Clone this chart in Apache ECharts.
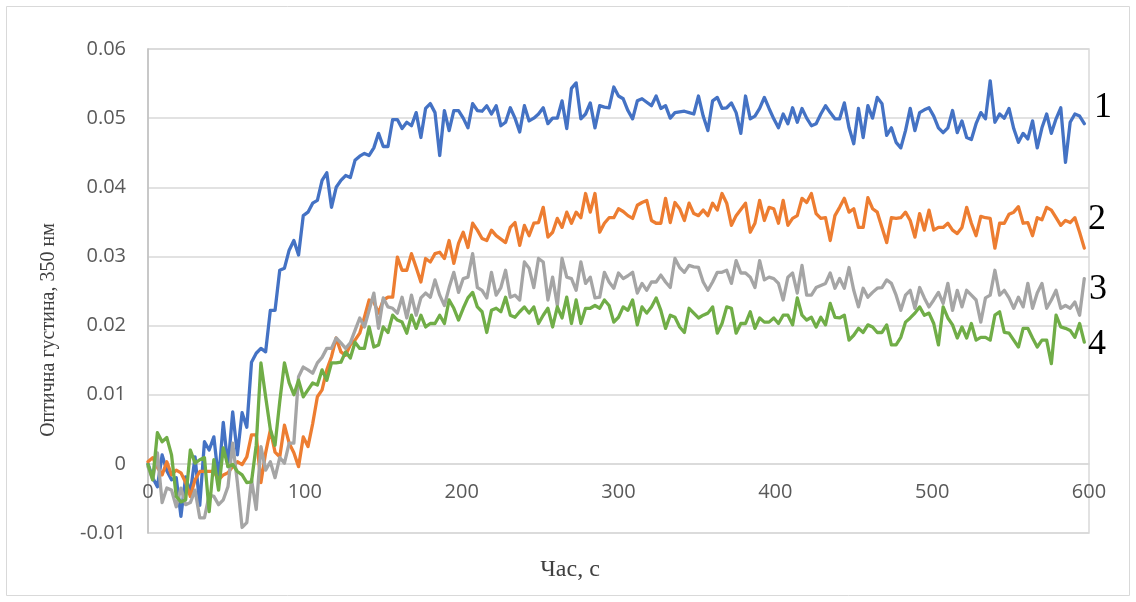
<!DOCTYPE html>
<html>
<head>
<meta charset="utf-8">
<script src="https://cdn.jsdelivr.net/npm/echarts@6/dist/echarts.min.js"></script>
<style>
  html, body { margin: 0; padding: 0; background: #fff; }
  #chart { width: 1136px; height: 602px; }
</style>
</head>
<body>
<div id="chart"></div>
<script>
// час вимірювання, с
var time = [
    0, 3, 6, 9, 12, 15, 18, 21, 24, 27,
    30, 33, 36, 39, 42, 45, 48, 51, 54, 57,
    60, 63, 66, 69, 72, 75, 78, 81, 84, 87,
    90, 93, 96, 99, 102, 105, 108, 111, 114, 117,
    120, 123, 126, 129, 132, 135, 138, 141, 144, 147,
    150, 153, 156, 159, 162, 165, 168, 171, 174, 177,
    180, 183, 186, 189, 192, 195, 198, 201, 204, 207,
    210, 213, 216, 219, 222, 225, 228, 231, 234, 237,
    240, 243, 246, 249, 252, 255, 258, 261, 264, 267,
    270, 273, 276, 279, 282, 285, 288, 291, 294, 297,
    300, 303, 306, 309, 312, 315, 318, 321, 324, 327,
    330, 333, 336, 339, 342, 345, 348, 351, 354, 357,
    360, 363, 366, 369, 372, 375, 378, 381, 384, 387,
    390, 393, 396, 399, 402, 405, 408, 411, 414, 417,
    420, 423, 426, 429, 432, 435, 438, 441, 444, 447,
    450, 453, 456, 459, 462, 465, 468, 471, 474, 477,
    480, 483, 486, 489, 492, 495, 498, 501, 504, 507,
    510, 513, 516, 519, 522, 525, 528, 531, 534, 537,
    540, 543, 546, 549, 552, 555, 558, 561, 564, 567,
    570, 573, 576, 579, 582, 585, 588, 591, 594, 597
];

// крива 1
var series1 = [
    0.000, -0.002, -0.0033, 0.0013, -0.001, -0.0023, -0.002, -0.0076, -0.0019, -0.0042,
    0.001, -0.006, 0.0032, 0.002, 0.0039, -0.0023, 0.006, -0.0004, 0.0075, 0.0013,
    0.0074, 0.0053, 0.0147, 0.016, 0.0167, 0.0162, 0.0222, 0.0222, 0.028, 0.0283,
    0.0309, 0.0323, 0.0302, 0.0359, 0.0364, 0.0377, 0.0381, 0.041, 0.0421, 0.0371,
    0.040, 0.041, 0.0417, 0.0414, 0.0439, 0.0445, 0.0449, 0.0446, 0.0457, 0.0478,
    0.0459, 0.0459, 0.0498, 0.0498, 0.0485, 0.0494, 0.0489, 0.0508, 0.0472, 0.0514,
    0.0521, 0.0508, 0.0446, 0.0511, 0.0482, 0.0511, 0.0511, 0.05, 0.0486, 0.0521,
    0.0511, 0.051, 0.0518, 0.0506, 0.0518, 0.0489, 0.0494, 0.0515, 0.05, 0.048,
    0.0518, 0.0496, 0.05, 0.0506, 0.0515, 0.0492, 0.05, 0.05, 0.0525, 0.0485,
    0.0543, 0.0551, 0.0499, 0.0506, 0.0522, 0.0486, 0.0518, 0.0516, 0.0515, 0.0545,
    0.0532, 0.0528, 0.0511, 0.0499, 0.0525, 0.0528, 0.0523, 0.0518, 0.0532, 0.0514,
    0.0518, 0.05, 0.0508, 0.0509, 0.051, 0.0508, 0.0506, 0.0532, 0.0503, 0.0482,
    0.0525, 0.053, 0.0514, 0.0515, 0.0522, 0.0508, 0.0478, 0.0532, 0.0499, 0.0503,
    0.0514, 0.053, 0.0514, 0.0499, 0.0486, 0.0506, 0.0492, 0.0515, 0.0494, 0.0514,
    0.05, 0.0489, 0.0492, 0.0506, 0.0518, 0.0508, 0.0499, 0.0499, 0.0522, 0.0486,
    0.0463, 0.0514, 0.0472, 0.0518, 0.05, 0.053, 0.0521, 0.0475, 0.0486, 0.0465,
    0.0457, 0.0482, 0.0514, 0.0482, 0.0508, 0.0512, 0.0515, 0.0503, 0.0486, 0.0479,
    0.0486, 0.0511, 0.0479, 0.0496, 0.0472, 0.0469, 0.0492, 0.0508, 0.0499, 0.0554,
    0.0494, 0.0506, 0.05, 0.0514, 0.0485, 0.0465, 0.0478, 0.047, 0.0496, 0.0457,
    0.0486, 0.0506, 0.0478, 0.0499, 0.0515, 0.0436, 0.0494, 0.0506, 0.0503, 0.0492
];

// крива 2
var series2 = [
    0.0003, 0.0009, -0.0005, -0.0016, 0.0003, -0.0016, -0.0009, -0.0013, -0.0027, -0.0047,
    -0.0023, -0.0011, -0.0011, -0.0011, -0.0011, -0.0023, -0.0016, -0.0013, -0.0004, 0.0003,
    -0.0001, 0.001, 0.0042, 0.0042, -0.0027, 0.0016, 0.0049, 0.0017, 0.001, 0.0056,
    0.003, 0.0016, -0.0004, 0.0039, 0.0025, 0.0058, 0.0097, 0.0107, 0.0136, 0.0155,
    0.0182, 0.0162, 0.0157, 0.0172, 0.0179, 0.0189, 0.0212, 0.0237, 0.0234, 0.0218,
    0.0237, 0.0241, 0.0241, 0.0299, 0.028, 0.028, 0.0304, 0.0284, 0.0263, 0.0297,
    0.0292, 0.0304, 0.0306, 0.0297, 0.0323, 0.029, 0.0319, 0.0335, 0.0313, 0.0348,
    0.0338, 0.0326, 0.0323, 0.0338, 0.033, 0.0325, 0.032, 0.0342, 0.0349, 0.0316,
    0.0345, 0.033, 0.0348, 0.0349, 0.0371, 0.0328, 0.0335, 0.0355, 0.0342, 0.0364,
    0.0348, 0.0364, 0.0356, 0.0391, 0.0364, 0.0391, 0.0335, 0.0348, 0.0356, 0.0356,
    0.0369, 0.0365, 0.0359, 0.0355, 0.0374, 0.0378, 0.0381, 0.0352, 0.0348, 0.0348,
    0.0384, 0.0349, 0.0378, 0.0369, 0.0352, 0.0377, 0.0362, 0.0359, 0.0367, 0.0359,
    0.0377, 0.0367, 0.0391, 0.0377, 0.0345, 0.0359, 0.0368, 0.0377, 0.0335, 0.0348,
    0.0381, 0.0352, 0.0371, 0.0369, 0.0348, 0.0381, 0.0345, 0.0355, 0.0359, 0.0384,
    0.0378, 0.0391, 0.0362, 0.0355, 0.0356, 0.0323, 0.0359, 0.0371, 0.0384, 0.0364,
    0.0369, 0.0342, 0.0342, 0.0385, 0.0369, 0.0364, 0.0342, 0.032, 0.0356, 0.0355,
    0.0356, 0.0364, 0.0352, 0.0328, 0.0362, 0.0338, 0.0367, 0.0338, 0.0342, 0.0342,
    0.0348, 0.0338, 0.0333, 0.0342, 0.0371, 0.0348, 0.033, 0.0358, 0.0356, 0.0355,
    0.0312, 0.0348, 0.0348, 0.0361, 0.0364, 0.0372, 0.0348, 0.0349, 0.033, 0.0356,
    0.0353, 0.0371, 0.0367, 0.0356, 0.0345, 0.0352, 0.0349, 0.0356, 0.0335, 0.0312
];

// крива 3
var series3 = [
    -0.0004, -0.0023, 0.0016, -0.0056, -0.0035, -0.0038, -0.0062, -0.0035, -0.0059, -0.0056,
    -0.0038, -0.0078, -0.0078, -0.0045, -0.0047, -0.0059, -0.0052, -0.0033, 0.003, -0.0027,
    -0.0092, -0.0085, -0.0023, -0.0066, 0.0025, -0.0009, 0.0003, -0.002, 0.0009, 0.0001,
    0.003, 0.003, 0.0126, 0.014, 0.0136, 0.0131, 0.0146, 0.0154, 0.0167, 0.0167,
    0.0182, 0.0175, 0.0167, 0.0175, 0.0193, 0.0211, 0.0198, 0.0222, 0.0247, 0.0196,
    0.024, 0.0227, 0.0225, 0.0218, 0.0241, 0.0211, 0.0244, 0.0215, 0.024, 0.0247,
    0.0241, 0.0266, 0.0244, 0.0229, 0.0255, 0.0277, 0.0248, 0.0268, 0.027, 0.0304,
    0.0255, 0.0251, 0.024, 0.0277, 0.0244, 0.0255, 0.028, 0.0241, 0.0244, 0.0237,
    0.0292, 0.0283, 0.0255, 0.0297, 0.0292, 0.0237, 0.027, 0.0229, 0.0297, 0.027,
    0.0268, 0.0251, 0.0292, 0.0261, 0.027, 0.024, 0.0241, 0.0277, 0.0263, 0.0254,
    0.0276, 0.0268, 0.0272, 0.0277, 0.0247, 0.0261, 0.0251, 0.0263, 0.0263, 0.0273,
    0.0263, 0.0255, 0.0297, 0.0284, 0.0277, 0.0287, 0.0285, 0.0284, 0.0263, 0.0251,
    0.0263, 0.0277, 0.0277, 0.028, 0.0261, 0.0294, 0.0276, 0.0276, 0.027, 0.0255,
    0.0294, 0.0266, 0.027, 0.0268, 0.0261, 0.0237, 0.027, 0.0276, 0.0247, 0.0287,
    0.0244, 0.0244, 0.0255, 0.0258, 0.0261, 0.0276, 0.0254, 0.0268, 0.0254, 0.0284,
    0.0251, 0.0227, 0.0254, 0.0241, 0.0248, 0.0254, 0.0255, 0.0266, 0.0261, 0.0244,
    0.0222, 0.0244, 0.0251, 0.0225, 0.0255, 0.024, 0.0227, 0.0237, 0.0248, 0.0232,
    0.0261, 0.0222, 0.0251, 0.0227, 0.0251, 0.0244, 0.0237, 0.0205, 0.024, 0.0244,
    0.028, 0.0244, 0.0251, 0.024, 0.0225, 0.0241, 0.0227, 0.0261, 0.0225, 0.0247,
    0.0261, 0.0225, 0.0237, 0.0251, 0.0225, 0.0229, 0.0225, 0.0234, 0.0215, 0.0268
];

// крива 4
var series4 = [
    -0.0001, -0.0023, 0.0045, 0.0032, 0.0038, 0.0013, -0.0047, -0.0055, -0.0052, 0.002,
    0.0001, 0.0006, 0.0009, -0.0069, 0.0006, -0.0038, 0.0023, -0.0004, -0.0001, -0.0011,
    -0.0016, -0.0027, -0.0026, 0.0027, 0.0146, 0.0097, 0.005, 0.0027, 0.009, 0.0146,
    0.0117, 0.01, 0.0121, 0.0097, 0.0107, 0.0117, 0.0114, 0.0136, 0.0121, 0.0146,
    0.0146, 0.0147, 0.0162, 0.0153, 0.0176, 0.0167, 0.0167, 0.0198, 0.0169, 0.0172,
    0.0198, 0.019, 0.0215, 0.0208, 0.0205, 0.0189, 0.0215, 0.0196, 0.0215, 0.0198,
    0.0203, 0.0203, 0.0215, 0.0203, 0.0237, 0.0225, 0.0208, 0.0225, 0.024, 0.0248,
    0.0227, 0.022, 0.019, 0.0222, 0.0225, 0.022, 0.0241, 0.0215, 0.0212, 0.022,
    0.0227, 0.0218, 0.0227, 0.0203, 0.0215, 0.0225, 0.0198, 0.0227, 0.0211, 0.0241,
    0.0203, 0.0237, 0.0203, 0.0225, 0.0225, 0.0229, 0.0225, 0.0237, 0.0229, 0.0205,
    0.0212, 0.0227, 0.0222, 0.0237, 0.0201, 0.0227, 0.0218, 0.0227, 0.024, 0.0222,
    0.0196, 0.0215, 0.0212, 0.0198, 0.019, 0.0225, 0.0218, 0.0211, 0.0215, 0.0218,
    0.0227, 0.0189, 0.0203, 0.0227, 0.0225, 0.0189, 0.0203, 0.0203, 0.022, 0.0196,
    0.0211, 0.0205, 0.0205, 0.0211, 0.0203, 0.0215, 0.0215, 0.0201, 0.024, 0.0215,
    0.0208, 0.0212, 0.0198, 0.0212, 0.0201, 0.0232, 0.0212, 0.0211, 0.0215, 0.0179,
    0.0186, 0.0196, 0.019, 0.0201, 0.0198, 0.019, 0.019, 0.0201, 0.0172, 0.0172,
    0.0183, 0.0205, 0.0211, 0.0218, 0.0227, 0.0215, 0.0218, 0.0203, 0.0172, 0.0227,
    0.0211, 0.0201, 0.0182, 0.0198, 0.0182, 0.0203, 0.0179, 0.0183, 0.0183, 0.0179,
    0.0215, 0.022, 0.019, 0.0189, 0.0179, 0.0169, 0.0196, 0.0196, 0.0182, 0.0169,
    0.0179, 0.0179, 0.0145, 0.0215, 0.0198, 0.0196, 0.0193, 0.0183, 0.0203, 0.0176
];

var seriesNames = ['1', '2', '3', '4'];
var seriesColors = ['#4472C4', '#ED7D31', '#A5A5A5', '#70AD47'];
var xTitle = 'Час, с';
var yTitle = 'Оптична густина, 350 нм';

function pairs(values) {
    return time.map(function (t, i) { return [t, values[i]]; });
}

var myChart = echarts.init(document.getElementById('chart'));

var lines = [series1, series2, series3, series4].map(function (values, k) {
    return {
        name: seriesNames[k],
        type: 'line',
        data: pairs(values),
        showSymbol: false,
        animation: false,
        lineStyle: { color: seriesColors[k], width: 3.3, join: 'round', cap: 'round' },
        itemStyle: { color: seriesColors[k] }
    };
});

// підписи кривих праворуч
var curveLabels = [
    { text: '1', x: 1103, y: 108 },
    { text: '2', x: 1097, y: 220 },
    { text: '3', x: 1098, y: 290 },
    { text: '4', x: 1097, y: 345 }
].map(function (d) {
    return {
        type: 'text', x: d.x, y: d.y, silent: true,
        style: {
            text: d.text, font: '36px "Liberation Serif"', fill: '#000',
            textAlign: 'center', textVerticalAlign: 'middle'
        }
    };
});

option = {
    backgroundColor: '#ffffff',
    animation: false,
    grid: {
        left: 148, right: 47, top: 49, bottom: 69,
        show: true, borderColor: '#d9d9d9', borderWidth: 1.5
    },
    xAxis: {
        type: 'value',
        min: 0, max: 600, interval: 100,
        offset: -69,   // вісь часу проходить через нуль
        axisLine: { onZero: false, lineStyle: { color: '#d9d9d9', width: 1.5 } },
        axisTick: { show: false },
        splitLine: { show: false },
        axisLabel: { color: '#595959', fontFamily: 'Open Sans', fontSize: 20, margin: 18 }
    },
    yAxis: {
        type: 'value',
        min: -0.01, max: 0.06, interval: 0.01,
        axisLine: { show: true, lineStyle: { color: '#bfbfbf', width: 1.5 } },
        axisTick: { show: false },
        splitLine: { show: true, lineStyle: { color: '#d9d9d9', width: 1.5 } },
        axisLabel: {
            color: '#595959', fontFamily: 'Open Sans', fontSize: 20, margin: 22,
            formatter: function (v) { return +v.toFixed(2) + ''; }
        }
    },
    graphic: [
        {
            type: 'rect', silent: true, z: -10,
            shape: { x: 6.5, y: 6.5, width: 1123, height: 589 },
            style: { fill: 'none', stroke: '#d9d9d9', lineWidth: 1 }
        },
        {
            type: 'text', x: 570, y: 570, silent: true,
            style: {
                text: xTitle, font: '24px "Liberation Serif"', fill: '#404040',
                textAlign: 'center', textVerticalAlign: 'middle'
            }
        },
        {
            type: 'text', x: 49, y: 330, rotation: Math.PI / 2, silent: true,
            style: {
                text: yTitle, font: '20px "Liberation Serif"', fill: '#404040',
                textAlign: 'center', textVerticalAlign: 'middle'
            }
        }
    ].concat(curveLabels),
    series: lines
};

myChart.setOption(option, true);
</script>
</body>
</html>
